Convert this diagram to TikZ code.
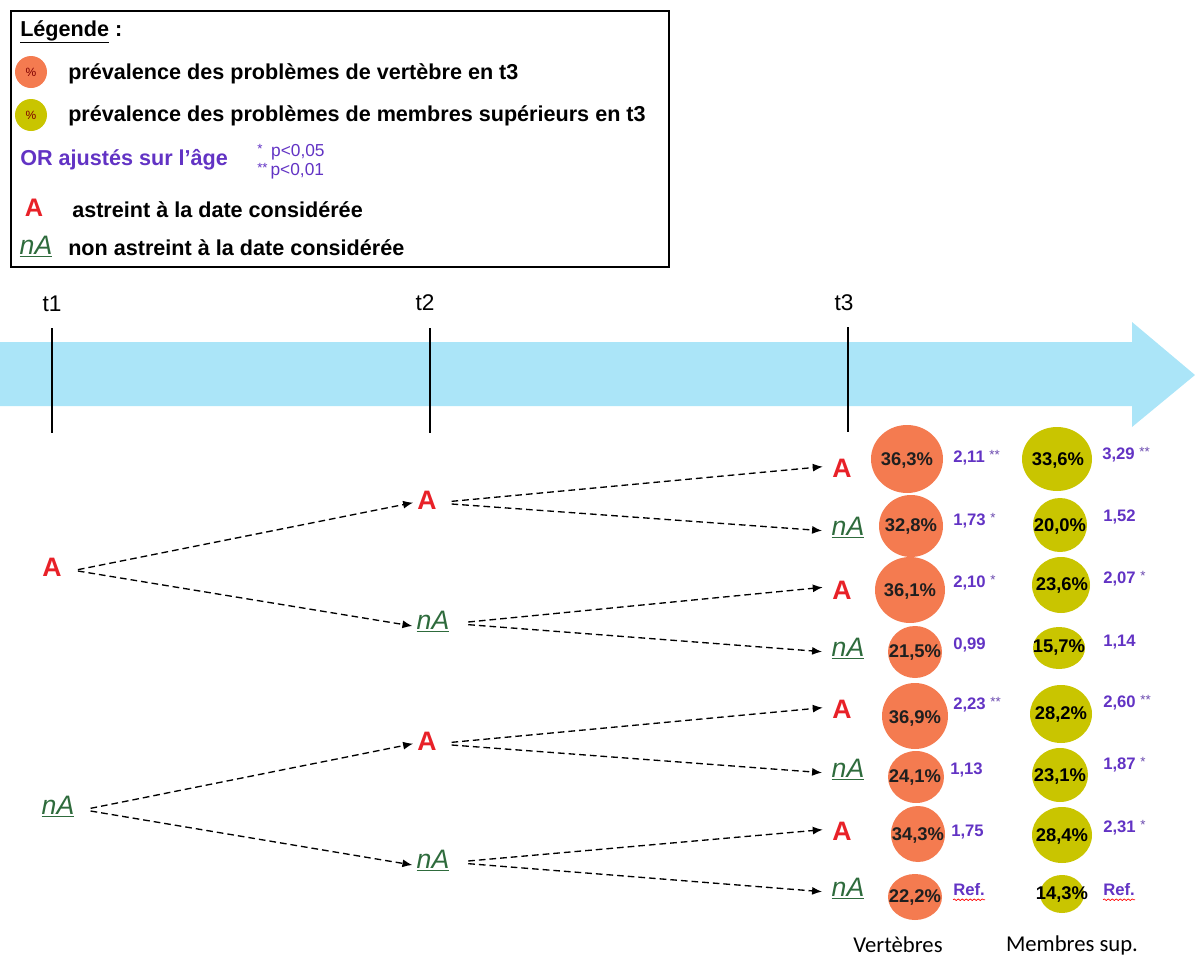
\documentclass[tikz,border=0pt]{standalone}
\usepackage{fontspec}
\setmainfont{Liberation Sans}
\newfontfamily\calibrifont{Carlito}
\usetikzlibrary{arrows.meta,decorations.pathmorphing}
\definecolor{vorange}{HTML}{F47B50}
\definecolor{vyellow}{HTML}{C9C500}
\definecolor{tlblue}{HTML}{ABE5F8}
\definecolor{orpurple}{HTML}{6233C4}
\definecolor{astred}{HTML}{E82128}
\definecolor{nagreen}{HTML}{2E6B3C}
\newcommand\myfs[1]{\fontsize{#1}{#1}\selectfont}
\newcommand\mystars[1]{\ {\myfs{10}\mdseries\color{orpurple!70!gray}\raisebox{2pt}{#1}}}
\begin{document}
\begin{tikzpicture}[x=0.75pt,y=-0.75pt,
  legtext/.style={anchor=west,inner sep=0pt,font=\bfseries\myfs{16.2}},
  Anode/.style={text=astred,font=\bfseries\myfs{20},inner sep=3pt},
  nAnode/.style={text=nagreen,font=\itshape\myfs{20},inner sep=3pt},
  pct/.style={inner sep=0pt,font=\bfseries\myfs{13.8},text=black!88},
  orval/.style={anchor=west,inner sep=0pt,text=orpurple,font=\bfseries\myfs{12.5}},
  flow/.style={dash pattern=on 5pt off 3pt,line width=1pt,-{Latex[length=7.5pt,width=6pt]}},
  tick/.style={line width=1.6pt},
  tlabel/.style={font=\myfs{17}},
  wavy/.style={red,line width=0.5pt,decorate,decoration={snake,amplitude=0.6pt,segment length=3pt}}]
\useasboundingbox (0,0) rectangle (1197,957);

% legend
\node[draw=black,line width=1.2pt,minimum width=658*0.75pt,minimum height=256*0.75pt,anchor=north west,inner sep=0pt] (legbox) at (10,10) {};
\node[legtext] (legtitle) at (20,32) {\underline{Légende} :};
\fill[vorange] (31,72) circle (16);
\node[inner sep=0pt,font=\myfs{9},text=red!50!black] (legp1) at (31,72) {\%};
\node[legtext] (leg1) at (68,74) {prévalence des problèmes de vertèbre en t3};
\fill[vyellow] (31,115) circle (16);
\node[inner sep=0pt,font=\myfs{9},text=red!50!black] (legp2) at (31,115) {\%};
\node[legtext] (leg2) at (68,116) {prévalence des problèmes de membres supérieurs en t3};
\node[legtext,text=orpurple] (leg3) at (20,160) {OR ajustés sur l’âge};
\node[anchor=west,inner sep=0pt,text=orpurple,font=\myfs{13}] (legs1) at (257,152) {{\myfs{10}\raisebox{2pt}{*}}\,\,\,p<0,05};
\node[anchor=west,inner sep=0pt,text=orpurple,font=\myfs{13}] (legs2) at (257,171) {{\myfs{10}\raisebox{2pt}{**}}\,p<0,01};
\node[text=astred,font=\bfseries\myfs{19},inner sep=0pt] (legA) at (34,208) {A};
\node[legtext] (leg4) at (72,210) {astreint à la date considérée};
\node[text=nagreen,font=\itshape\myfs{20},inner sep=0pt] (legnA) at (36,247) {\underline{nA}};
\node[legtext] (leg5) at (68,248) {non astreint à la date considérée};

% timeline arrow
\fill[tlblue] (0,342) -- (1132,342) -- (1132,322) -- (1195,375) -- (1132,427) -- (1132,406) -- (0,406) -- cycle;
\node[tlabel] (t1) at (52,304) {t1};
\node[tlabel] (t2) at (425,303) {t2};
\node[tlabel] (t3) at (844,303) {t3};
\draw[tick] (52,328) -- (52,433);
\draw[tick] (430,328) -- (430,433);
\draw[tick] (848,327) -- (848,432);

% tree nodes
\node[Anode] (a0) at (52,567) {A};
\node[nAnode] (n0) at (58,807) {\underline{nA}};
\node[Anode] (a1) at (427,500) {A};
\node[nAnode] (n1) at (433,622) {\underline{nA}};
\node[Anode] (a2) at (427,741) {A};
\node[nAnode] (n2) at (433,861) {\underline{nA}};
\node[Anode] (r1) at (842,468) {A};
\node[nAnode] (r2) at (848,528) {\underline{nA}};
\node[Anode] (r3) at (842,590) {A};
\node[nAnode] (r4) at (848,649) {\underline{nA}};
\node[Anode] (r5) at (842,709) {A};
\node[nAnode] (r6) at (848,770) {\underline{nA}};
\node[Anode] (r7) at (842,831) {A};
\node[nAnode] (r8) at (848,889) {\underline{nA}};

% connectors
\draw[flow] ([xshift=9pt,yshift=-2pt]a0.east) -- ([yshift=-2pt]a1.west);
\draw[flow] ([xshift=9pt,yshift=-3pt]a0.east) -- ([yshift=-3pt]n1.west);
\draw[flow] ([xshift=9pt,yshift=-1pt]n0.east) -- ([yshift=-2pt]a2.west);
\draw[flow] ([xshift=9pt,yshift=-3pt]n0.east) -- ([yshift=-3pt]n2.west);
\draw[flow] ([xshift=8pt,yshift=-1pt]a1.east) -- ([xshift=-4pt,yshift=1pt]r1.west);
\draw[flow] ([xshift=8pt,yshift=-3pt]a1.east) -- ([xshift=-4pt,yshift=-2pt]r2.west);
\draw[flow] ([xshift=11pt,yshift=0pt]n1.east) -- ([xshift=-4pt,yshift=2pt]r3.west);
\draw[flow] ([xshift=11pt,yshift=-2pt]n1.east) -- ([xshift=-4pt,yshift=-2pt]r4.west);
\draw[flow] ([xshift=8pt,yshift=-1pt]a2.east) -- ([xshift=-4pt,yshift=1pt]r5.west);
\draw[flow] ([xshift=8pt,yshift=-3pt]a2.east) -- ([xshift=-4pt,yshift=-2pt]r6.west);
\draw[flow] ([xshift=11pt,yshift=0pt]n2.east) -- ([xshift=-4pt,yshift=1pt]r7.west);
\draw[flow] ([xshift=11pt,yshift=-2pt]n2.east) -- ([xshift=-4pt,yshift=-2pt]r8.west);

% vertebra circles
\fill[vorange] (907,459) ellipse (36 and 34);
\fill[vorange] (911,526) ellipse (32 and 31);
\fill[vorange] (910,590) ellipse (35 and 33);
\fill[vorange] (915,652) ellipse (27 and 26);
\fill[vorange] (915,716) ellipse (33 and 33);
\fill[vorange] (916,777) ellipse (28 and 26);
\fill[vorange] (918,834) ellipse (27 and 28);
\fill[vorange] (915,897) ellipse (27 and 23);
\node[pct] (v1) at (907,460) {36,3\%};
\node[pct] (v2) at (911,526) {32,8\%};
\node[pct] (v3) at (910,591) {36,1\%};
\node[pct] (v4) at (915,652) {21,5\%};
\node[pct] (v5) at (915,718) {36,9\%};
\node[pct] (v6) at (915,777) {24,1\%};
\node[pct] (v7) at (918,835) {34,3\%};
\node[pct] (v8) at (915,897) {22,2\%};

% upper limb circles
\fill[vyellow] (1057,459) ellipse (35 and 32);
\fill[vyellow] (1060,525) ellipse (27 and 27);
\fill[vyellow] (1061,585) ellipse (29 and 28);
\fill[vyellow] (1059,648) ellipse (26 and 21);
\fill[vyellow] (1061,714) ellipse (31 and 29);
\fill[vyellow] (1060,775) ellipse (28 and 27);
\fill[vyellow] (1062,835) ellipse (30 and 28);
\fill[vyellow] (1062,894) ellipse (22 and 19);
\node[pct,text=black] (m1) at (1058,460) {33,6\%};
\node[pct,text=black] (m2) at (1060,526) {20,0\%};
\node[pct,text=black] (m3) at (1062,585) {23,6\%};
\node[pct,text=black] (m4) at (1059,648) {15,7\%};
\node[pct,text=black] (m5) at (1061,714) {28,2\%};
\node[pct,text=black] (m6) at (1060,776) {23,1\%};
\node[pct,text=black] (m7) at (1062,836) {28,4\%};
\node[pct,text=black] (m8) at (1062,894) {14,3\%};

% OR values
\node[orval] (o1) at (953,458) {2,11\mystars{**}};
\node[orval] (o2) at (953,521) {1,73\mystars{*}};
\node[orval] (o3) at (953,583) {2,10\mystars{*}};
\node[orval] (o4) at (953,645) {0,99};
\node[orval] (o5) at (953,705) {2,23\mystars{**}};
\node[orval] (o6) at (950,770) {1,13};
\node[orval] (o7) at (951,832) {1,75};
\node[orval] (o8) at (953,890) {Ref.};
\node[orval] (p1) at (1102,455) {3,29\mystars{**}};
\node[orval] (p2) at (1103,517) {1,52};
\node[orval] (p3) at (1103,579) {2,07\mystars{*}};
\node[orval] (p4) at (1103,642) {1,14};
\node[orval] (p5) at (1103,703) {2,60\mystars{**}};
\node[orval] (p6) at (1103,765) {1,87\mystars{*}};
\node[orval] (p7) at (1103,828) {2,31\mystars{*}};
\node[orval] (p8) at (1103,890) {Ref.};
\draw[wavy] ([yshift=-2.5pt]o8.south west) -- ([yshift=-2.5pt]o8.south east);
\draw[wavy] ([yshift=-2.5pt]p8.south west) -- ([yshift=-2.5pt]p8.south east);

% column labels
\node[font=\calibrifont\myfs{17}] (lab1) at (898,945) {Vertèbres};
\node[font=\calibrifont\myfs{17}] (lab2) at (1072,945) {Membres sup.};
\end{tikzpicture}
\end{document}
